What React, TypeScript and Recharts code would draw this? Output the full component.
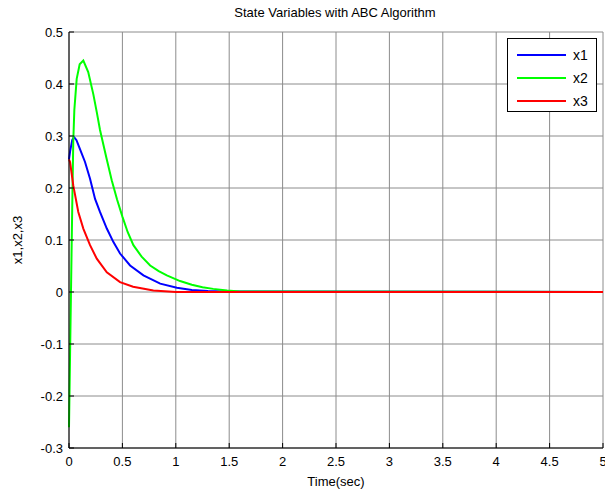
import { LineChart, Line, XAxis, YAxis, CartesianGrid } from 'recharts'

const xTicks = [0, 0.5, 1, 1.5, 2, 2.5, 3, 3.5, 4, 4.5, 5]
const yTicks = [-0.3, -0.2, -0.1, 0, 0.1, 0.2, 0.3, 0.4, 0.5]

const x1Time = [0, 0.01, 0.03, 0.047, 0.07, 0.1, 0.15, 0.197, 0.244, 0.29, 0.354, 0.416, 0.478, 0.572, 0.697, 0.854, 1.01, 1.15, 1.3, 1.45, 5]
const x1Values = [0.255, 0.27, 0.292, 0.298, 0.292, 0.276, 0.25, 0.218, 0.179, 0.154, 0.122, 0.096, 0.074, 0.051, 0.032, 0.016, 0.008, 0.004, 0.002, 0.001, 0]

const x2Time = [0, 0.01, 0.02, 0.03, 0.04, 0.05, 0.072, 0.1, 0.134, 0.18, 0.228, 0.26, 0.29, 0.35, 0.4, 0.45, 0.5, 0.55, 0.603, 0.68, 0.76, 0.84, 0.916, 1.04, 1.15, 1.25, 1.35, 1.48, 1.6, 5]
const x2Values = [-0.26, -0.12, 0.02, 0.16, 0.29, 0.35, 0.41, 0.438, 0.445, 0.423, 0.38, 0.346, 0.312, 0.258, 0.215, 0.178, 0.145, 0.115, 0.09, 0.068, 0.051, 0.04, 0.032, 0.021, 0.014, 0.009, 0.006, 0.003, 0.001, 0]

const x3Time = [0, 0.01, 0.04, 0.087, 0.134, 0.197, 0.26, 0.354, 0.478, 0.6, 0.79, 1.0, 5]
const x3Values = [0.255, 0.25, 0.205, 0.154, 0.122, 0.09, 0.064, 0.038, 0.019, 0.01, 0.003, 0, 0]

const toRows = (t: number[], v: number[]) => t.map((time, i) => ({ t: time, v: v[i] }))

const series = [
  { name: 'x1', color: '#0000ff', data: toRows(x1Time, x1Values) },
  { name: 'x2', color: '#00ff00', data: toRows(x2Time, x2Values) },
  { name: 'x3', color: '#ff0000', data: toRows(x3Time, x3Values) },
]

const FONT = 'Liberation Sans, Arial, sans-serif'
const tickStyle = { fontSize: 13, fill: '#000', fontFamily: FONT }

// legend sits over the chart like matlab's, so it doesn't eat plot space
function LegendBox() {
  return (
    <div
      style={{
        position: 'absolute',
        left: 507,
        top: 38,
        border: '1px solid #000',
        background: '#fff',
        width: 90,
        height: 74,
        boxSizing: 'border-box',
        padding: '4px 0 0 9px',
        fontFamily: FONT,
        fontSize: 14,
      }}
    >
      {series.map(s => (
        <div key={s.name} style={{ display: 'flex', alignItems: 'center', height: 23 }}>
          <div style={{ width: 49, height: 2, background: s.color, marginRight: 7 }} />
          <span>{s.name}</span>
        </div>
      ))}
    </div>
  )
}

export default function App() {
  return (
    <div style={{ position: 'absolute', left: 0, top: 0, width: 605, height: 497, background: '#fff' }}>
      <LineChart width={605} height={497} margin={{ top: 32, right: 2, left: 0, bottom: 0 }}>
        <text x={335} y={17} textAnchor="middle" fontSize={13} fontFamily={FONT} fill="#000">
          State Variables with ABC Algorithm
        </text>
        <CartesianGrid stroke="#8c8c8c" strokeWidth={1} />
        <XAxis
          dataKey="t"
          type="number"
          domain={[0, 5]}
          ticks={xTicks}
          allowDuplicatedCategory={false}
          height={49}
          stroke="#000"
          tick={tickStyle}
          tickSize={-5}
          tickMargin={14}
          interval={0}
          label={{ value: 'Time(sec)', position: 'insideBottom', offset: 11, fontSize: 13, fill: '#000', fontFamily: FONT }}
        />
        <XAxis
          xAxisId="top"
          orientation="top"
          dataKey="t"
          type="number"
          domain={[0, 5]}
          ticks={xTicks}
          height={0}
          stroke="#000"
          tickFormatter={() => ''}
          tickSize={-5}
          interval={0}
        />
        <YAxis
          type="number"
          domain={[-0.3, 0.5]}
          ticks={yTicks}
          width={69}
          stroke="#000"
          tick={tickStyle}
          tickSize={-5}
          tickMargin={11}
          interval={0}
          tickFormatter={(v: number) => (Math.abs(v) < 1e-9 ? '0' : String(Math.round(v * 10) / 10))}
          label={{ value: 'x1,x2,x3', angle: -90, position: 'insideLeft', offset: 17, fontSize: 13, fill: '#000', fontFamily: FONT, style: { textAnchor: 'middle' } }}
        />
        <YAxis
          yAxisId="right"
          orientation="right"
          type="number"
          domain={[-0.3, 0.5]}
          ticks={yTicks}
          width={0}
          stroke="#000"
          tickFormatter={() => ''}
          tickSize={-5}
          interval={0}
        />
        {series.map(s => (
          <Line
            key={s.name}
            data={s.data}
            dataKey="v"
            name={s.name}
            type="linear"
            stroke={s.color}
            strokeWidth={2}
            dot={false}
            isAnimationActive={false}
          />
        ))}
      </LineChart>
      <LegendBox />
    </div>
  )
}
